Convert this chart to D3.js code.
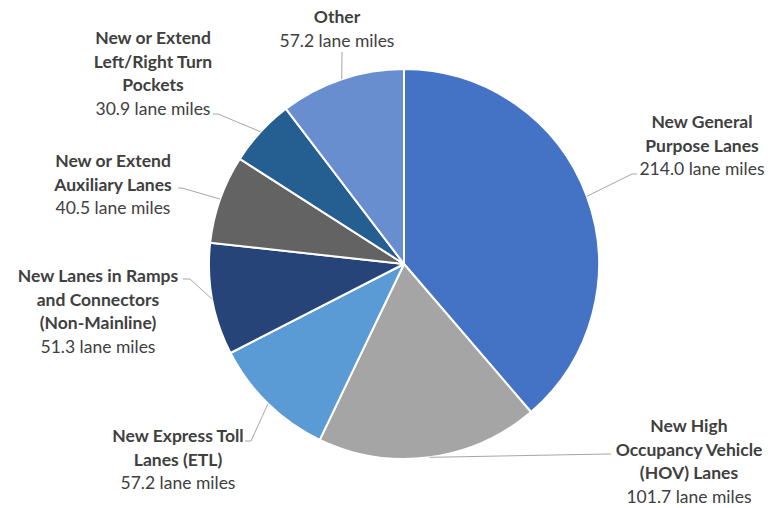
<!DOCTYPE html>
<html>
<head>
<meta charset="utf-8">
<script src="https://cdn.jsdelivr.net/npm/d3@7"></script>
<style>
  body { margin: 0; background: #fff; }
  svg text { font-family: Lato, "Open Sans", sans-serif; fill: #404040; }
</style>
</head>
<body>
<svg id="drawing_region"></svg>
<script>
// categories (clockwise from 12 o'clock) and their lane-mile values
const categories = [
    ["New General", "Purpose Lanes"],
    ["New High", "Occupancy Vehicle", "(HOV) Lanes"],
    ["New Express Toll", "Lanes (ETL)"],
    ["New Lanes in Ramps", "and Connectors", "(Non-Mainline)"],
    ["New or Extend", "Auxiliary Lanes"],
    ["New or Extend", "Left/Right Turn", "Pockets"],
    ["Other"]
];
const values = [214.0, 101.7, 57.2, 51.3, 40.5, 30.9, 57.2];
const unit = "lane miles";

const colors = ["#4472C4", "#A5A5A5", "#5B9BD5", "#264478", "#636363", "#255E91", "#698ED0"];

// label layout: text centre x, first line y, leader start and elbow
const labelLayout = [
    { x: 702, y: 121, sx: 637, sy: 174, ex: 632, ey: 174 },
    { x: 689, y: 425, sx: 611, sy: 454, ex: 608, ey: 454 },
    { x: 178, y: 435, sx: 245, sy: 441, ex: 251, ey: 441 },
    { x: 98,  y: 275, sx: 183, sy: 279, ex: 190, ey: 279 },
    { x: 113, y: 160, sx: 178, sy: 188, ex: 182, ey: 188 },
    { x: 153, y: 37,  sx: 213, sy: 114, ex: 218, ey: 114 },
    { x: 337, y: 16,  sx: 342, sy: 52,  ex: 342, ey: 53 }
];

const width = 774, height = 508;
const cx = 404, cy = 264, radius = 195;
const lineH = 23.5;
const fontSize = 17.5;

const svg = d3.select('#drawing_region')
    .attr('width', width)
    .attr('height', height);

const data = values.map((v, i) => ({ value: v, lines: categories[i], color: colors[i], pos: labelLayout[i] }));

const pie = d3.pie().sort(null).value(d => d.value);
const arcs = pie(data);
const arc = d3.arc().innerRadius(0).outerRadius(radius);

const chart = svg.append('g')
    .attr('transform', `translate(${cx}, ${cy})`);

chart.selectAll('path.slice')
    .data(arcs)
    .join('path')
    .attr('class', 'slice')
    .attr('d', arc)
    .attr('fill', d => d.data.color)
    .attr('stroke', '#fff')
    .attr('stroke-width', 2)
    .attr('stroke-linejoin', 'round');

// leader lines: from label to the arc edge at the slice's mid angle
svg.selectAll('polyline.leader')
    .data(arcs)
    .join('polyline')
    .attr('class', 'leader')
    .attr('fill', 'none')
    .attr('stroke', '#A6A6A6')
    .attr('stroke-width', 1)
    .attr('points', d => {
        const mid = (d.startAngle + d.endAngle) / 2;
        const px = cx + radius * Math.sin(mid);
        const py = cy - radius * Math.cos(mid);
        const p = d.data.pos;
        return `${p.sx},${p.sy} ${p.ex},${p.ey} ${px},${py}`;
    });

const labels = svg.selectAll('text.label')
    .data(arcs)
    .join('text')
    .attr('class', 'label')
    .attr('text-anchor', 'middle')
    .attr('dominant-baseline', 'central')
    .attr('x', d => d.data.pos.x)
    .attr('y', d => d.data.pos.y);

labels.each(function (d) {
    const t = d3.select(this);
    d.data.lines.forEach((line, i) => {
        t.append('tspan')
            .attr('x', d.data.pos.x)
            .attr('dy', i === 0 ? 0 : lineH)
            .attr('font-weight', 'bold')
            .attr('font-size', fontSize)
            .text(line);
    });
    t.append('tspan')
        .attr('x', d.data.pos.x)
        .attr('dy', lineH)
        .attr('font-size', fontSize)
        .text(`${d3.format('.1f')(d.data.value)} ${unit}`);
});
</script>
</body>
</html>
